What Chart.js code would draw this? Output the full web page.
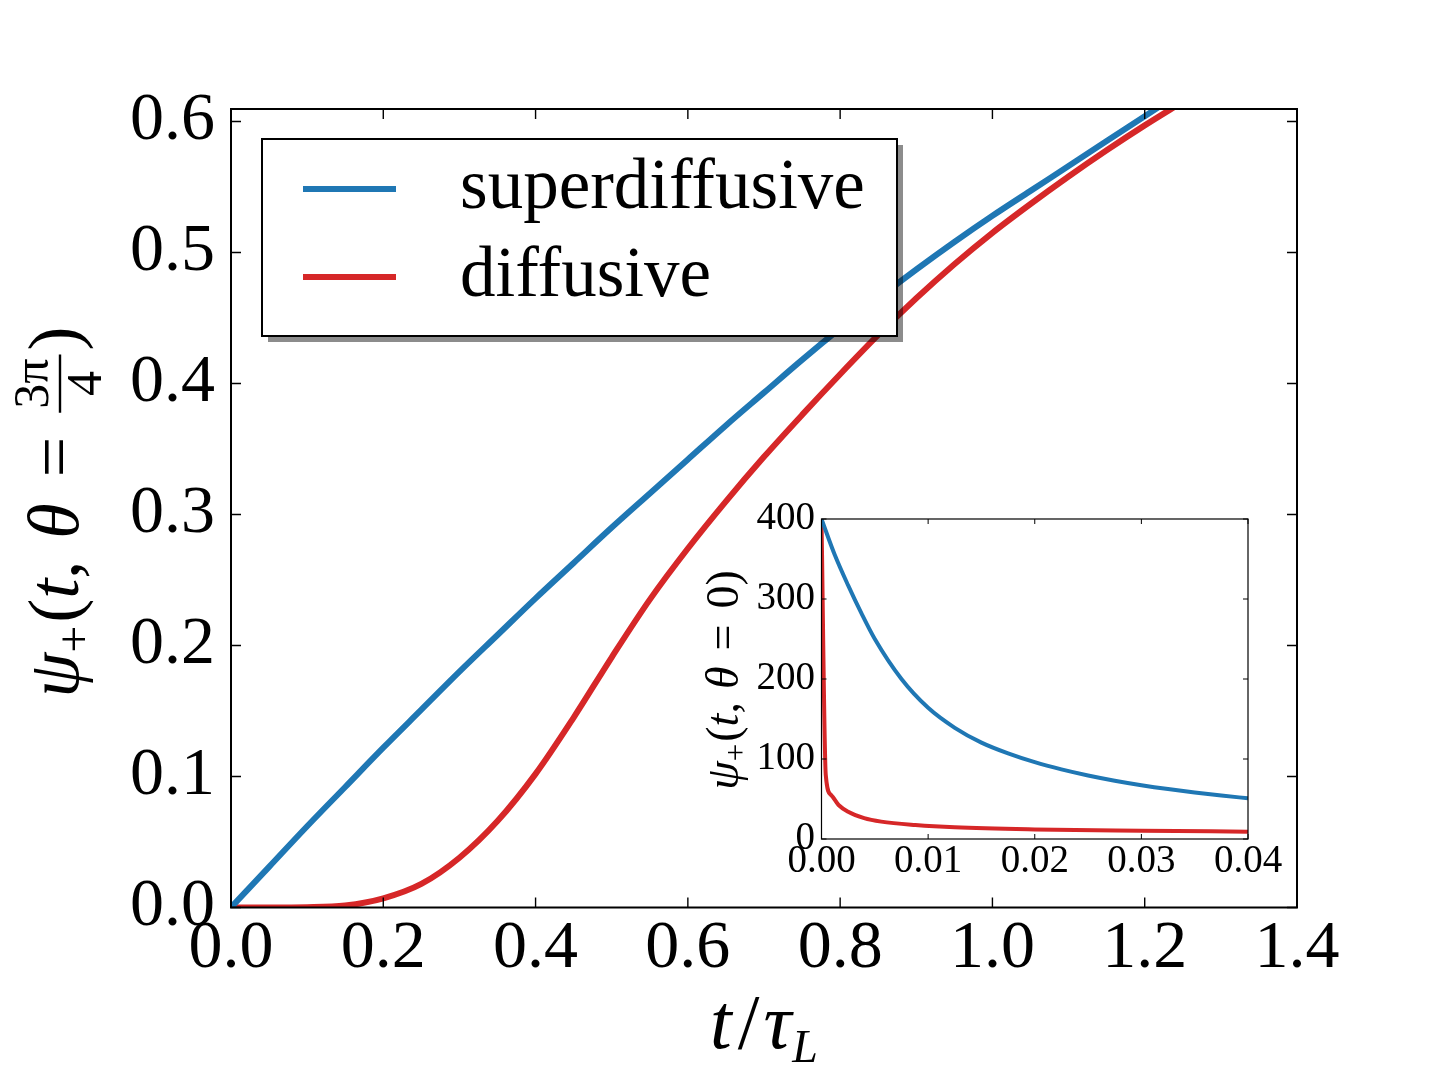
<!DOCTYPE html>
<html>
<head>
<meta charset="utf-8">
<script src="https://cdn.jsdelivr.net/npm/chart.js@4.4.0/dist/chart.umd.min.js"></script>
<style>
    html, body { margin: 0; padding: 0; background: #fff; }
    #wrap { position: relative; width: 1440px; height: 1080px; overflow: hidden; }
    #mainBox { position: absolute; left: 0; top: 0; width: 1440px; height: 1080px; }
    #insetBox { position: absolute; left: 690px; top: 490px; width: 610px; height: 410px; }
</style>
</head>
<body>
<div id="wrap">
    <div id="mainBox"><canvas id="mainChart"></canvas></div>
    <div id="insetBox"><canvas id="insetChart"></canvas></div>
</div>
<script>
// main panel: psi_+(t, theta = 3pi/4) against t / tau_L
const superT = [0, 0.05, 0.1, 0.15, 0.2, 0.25, 0.3, 0.35, 0.4, 0.45, 0.5, 0.55, 0.6, 0.65, 0.7, 0.75, 0.8, 0.85, 0.9, 0.95, 1.0, 1.05, 1.1, 1.15, 1.2, 1.25];
const superPsi = [0, 0.031, 0.062, 0.092, 0.122, 0.151, 0.180, 0.208, 0.236, 0.263, 0.290, 0.316, 0.342, 0.368, 0.393, 0.418, 0.442, 0.465, 0.487, 0.508, 0.528, 0.547, 0.566, 0.585, 0.604, 0.623];
const diffT = [0, 0.05, 0.1, 0.15, 0.2, 0.25, 0.3, 0.35, 0.4, 0.45, 0.5, 0.55, 0.6, 0.65, 0.7, 0.75, 0.8, 0.85, 0.9, 0.95, 1.0, 1.05, 1.1, 1.15, 1.2, 1.25];
const diffPsi = [0, 0, 0.0002, 0.0015, 0.007, 0.018, 0.038, 0.066, 0.102, 0.145, 0.191, 0.235, 0.274, 0.310, 0.344, 0.376, 0.407, 0.437, 0.465, 0.491, 0.515, 0.537, 0.558, 0.578, 0.597, 0.615];

// inset: psi_+(t, theta = 0) for short times
const insetSuperT = [0, 0.00125, 0.0025, 0.00375, 0.005, 0.0075, 0.01, 0.0125, 0.015, 0.0175, 0.02, 0.0225, 0.025, 0.0275, 0.03, 0.0325, 0.035, 0.0375, 0.04];
const insetSuperPsi = [400, 355, 317, 282, 250, 200, 164, 139, 120.5, 107, 96, 87, 79.4, 72.9, 67.3, 62.4, 58.1, 54.3, 50.9];
const insetDiffT = [0, 0.0004, 0.0009, 0.0016, 0.0025, 0.004, 0.0056, 0.0088, 0.0125, 0.02, 0.03, 0.04];
const insetDiffPsi = [400, 80, 55, 42.5, 34, 26, 21.7, 17.5, 14.6, 12, 10.4, 9.2];

const seriesNames = ['superdiffusive', 'diffusive'];
const seriesColors = ['#1f77b4', '#d62728'];

const mainXTicks = [0, 0.2, 0.4, 0.6, 0.8, 1.0, 1.2, 1.4];
const mainYTicks = [0, 0.1, 0.2, 0.3, 0.4, 0.5, 0.6];
const insetXTicks = [0, 0.01, 0.02, 0.03, 0.04];
const insetYTicks = [0, 100, 200, 300, 400];

const SERIF = '"Liberation Serif", "DejaVu Serif", serif';

function toPoints(xs, ys) {
    return xs.map(function (x, i) { return { x: x, y: ys[i] }; });
}

function useTicks(list) {
    return function (scale) {
        scale.ticks = list.map(function (v) { return { value: v }; });
    };
}

// frame on all four sides with inward ticks (matplotlib classic look)
const framePlugin = {
    id: 'frame',
    afterDatasetsDraw(chart, args, opts) {
        const ctx = chart.ctx;
        const a = chart.chartArea;
        const sx = chart.scales.x;
        const sy = chart.scales.y;
        ctx.save();
        ctx.strokeStyle = '#000';
        ctx.lineWidth = opts.tickWidth;
        ctx.beginPath();
        sx.ticks.forEach(function (t) {
            const px = sx.getPixelForValue(t.value);
            ctx.moveTo(px, a.bottom); ctx.lineTo(px, a.bottom - opts.tickLen);
            ctx.moveTo(px, a.top); ctx.lineTo(px, a.top + opts.tickLen);
        });
        sy.ticks.forEach(function (t) {
            const py = sy.getPixelForValue(t.value);
            ctx.moveTo(a.left, py); ctx.lineTo(a.left + opts.tickLen, py);
            ctx.moveTo(a.right, py); ctx.lineTo(a.right - opts.tickLen, py);
        });
        ctx.stroke();
        ctx.lineWidth = opts.lineWidth;
        ctx.strokeRect(a.left, a.top, a.width, a.height);
        ctx.restore();
    }
};

// draw a row of text pieces (rotated if needed); fractions get a bar
function drawPieces(ctx, pieces, cx, cy, angle) {
    ctx.save();
    ctx.translate(cx, cy);
    ctx.rotate(angle);
    ctx.fillStyle = '#000';
    ctx.textBaseline = 'alphabetic';
    ctx.textAlign = 'left';
    let total = 0;
    pieces.forEach(function (p) {
        ctx.font = p.font;
        if (p.num) {
            p.w = Math.max(ctx.measureText(p.num).width, ctx.measureText(p.den).width) + 8;
        } else {
            p.w = ctx.measureText(p.text).width;
        }
        total += p.w + (p.gap || 0);
    });
    let x = -total / 2;
    pieces.forEach(function (p) {
        ctx.font = p.font;
        if (p.num) {
            const wn = ctx.measureText(p.num).width;
            const wd = ctx.measureText(p.den).width;
            ctx.fillText(p.num, x + (p.w - wn) / 2, p.numY);
            ctx.fillText(p.den, x + (p.w - wd) / 2, p.denY);
            ctx.fillRect(x, p.barY - 1.2, p.w, 2.4);
        } else {
            ctx.fillText(p.text, x, p.dy || 0);
        }
        x += p.w + (p.gap || 0);
    });
    ctx.restore();
}

const mainTitles = {
    id: 'mainTitles',
    afterDraw(chart) {
        const ctx = chart.ctx;
        const it = 'italic 72px ' + SERIF;
        const rm = '72px ' + SERIF;
        drawPieces(ctx, [
            { text: 'ψ', font: it },
            { text: '+', font: '48px ' + SERIF, dy: 12, gap: 3 },
            { text: '(', font: rm },
            { text: 't', font: it },
            { text: ',', font: rm, gap: 22 },
            { text: 'θ', font: it, gap: 26 },
            { text: '=', font: rm, gap: 24 },
            { num: '3π', den: '4', font: '50px ' + SERIF, numY: -30, denY: 23, barY: -18, gap: 4 },
            { text: ')', font: rm }
        ], 78, 512, -Math.PI / 2);
        drawPieces(ctx, [
            { text: 't', font: 'italic 78px ' + SERIF, gap: 6 },
            { text: '/', font: '78px ' + SERIF, gap: 4 },
            { text: 'τ', font: 'italic 78px ' + SERIF, gap: 1 },
            { text: 'L', font: 'italic 46px ' + SERIF, dy: 14 }
        ], 764, 1048, 0);
    }
};

const insetTitles = {
    id: 'insetTitles',
    afterDraw(chart) {
        const ctx = chart.ctx;
        const it = 'italic 46px ' + SERIF;
        const rm = '46px ' + SERIF;
        drawPieces(ctx, [
            { text: 'ψ', font: it },
            { text: '+', font: '31px ' + SERIF, dy: 8, gap: 2 },
            { text: '(', font: rm },
            { text: 't', font: it },
            { text: ',', font: rm, gap: 13 },
            { text: 'θ', font: it, gap: 16 },
            { text: '=', font: rm, gap: 16 },
            { text: '0', font: rm },
            { text: ')', font: rm }
        ], 48, 190, -Math.PI / 2);
    }
};

// legend box drawn inside the plot with a drop shadow
const boxLegend = {
    id: 'boxLegend',
    afterDraw(chart) {
        const ctx = chart.ctx;
        const a = chart.chartArea;
        const bx = a.left + 31, by = a.top + 30, bw = 635, bh = 197;
        ctx.save();
        ctx.fillStyle = 'rgba(0,0,0,0.45)';
        ctx.fillRect(bx + 6, by + 6, bw, bh);
        ctx.fillStyle = '#fff';
        ctx.fillRect(bx, by, bw, bh);
        ctx.strokeStyle = '#000';
        ctx.lineWidth = 2;
        ctx.strokeRect(bx, by, bw, bh);
        ctx.font = '71px ' + SERIF;
        ctx.textBaseline = 'alphabetic';
        ctx.fillStyle = '#000';
        chart.data.datasets.forEach(function (ds, i) {
            const ly = by + 50 + i * 88;
            ctx.strokeStyle = ds.borderColor;
            ctx.lineWidth = 6;
            ctx.beginPath();
            ctx.moveTo(bx + 41, ly);
            ctx.lineTo(bx + 134, ly);
            ctx.stroke();
            ctx.fillText(ds.label, bx + 198, ly + 19);
        });
        ctx.restore();
    }
};

function lineSet(label, color, xs, ys, width) {
    return {
        label: label,
        data: toPoints(xs, ys),
        borderColor: color,
        backgroundColor: color,
        borderWidth: width,
        pointRadius: 0,
        fill: false,
        cubicInterpolationMode: 'monotone',
        clip: 0
    };
}

new Chart(document.getElementById('mainChart'), {
    type: 'line',
    data: {
        datasets: [
            lineSet(seriesNames[0], seriesColors[0], superT, superPsi, 6),
            lineSet(seriesNames[1], seriesColors[1], diffT, diffPsi, 6)
        ]
    },
    options: {
        responsive: true,
        maintainAspectRatio: false,
        animation: false,
        devicePixelRatio: 1,
        layout: { padding: { left: 0, top: 109, right: 143, bottom: 0 } },
        plugins: {
            legend: { display: false },
            tooltip: { enabled: false },
            frame: { tickLen: 10, tickWidth: 1.4, lineWidth: 2 }
        },
        scales: {
            x: {
                type: 'linear',
                min: 0,
                max: 1.4,
                grid: { display: false, drawTicks: false },
                border: { display: false },
                afterBuildTicks: useTicks(mainXTicks),
                afterFit: function (s) { s.height = 172.5; },
                ticks: {
                    color: '#000',
                    padding: 8,
                    maxRotation: 0,
                    font: { family: SERIF, size: 68, lineHeight: 1 },
                    callback: function (v) { return Number(v).toFixed(1); }
                }
            },
            y: {
                type: 'linear',
                min: 0,
                max: 0.6095,
                grid: { display: false, drawTicks: false },
                border: { display: false },
                afterBuildTicks: useTicks(mainYTicks),
                afterFit: function (s) { s.width = 231; },
                ticks: {
                    color: '#000',
                    padding: 16,
                    font: { family: SERIF, size: 68, lineHeight: 1 },
                    callback: function (v) { return Number(v).toFixed(1); }
                }
            }
        }
    },
    plugins: [framePlugin, boxLegend, mainTitles]
});

new Chart(document.getElementById('insetChart'), {
    type: 'line',
    data: {
        datasets: [
            lineSet(seriesNames[0], seriesColors[0], insetSuperT, insetSuperPsi, 4),
            lineSet(seriesNames[1], seriesColors[1], insetDiffT, insetDiffPsi, 4)
        ]
    },
    options: {
        responsive: true,
        maintainAspectRatio: false,
        animation: false,
        devicePixelRatio: 1,
        layout: { padding: { left: 0, top: 29, right: 52, bottom: 0 } },
        plugins: {
            legend: { display: false },
            tooltip: { enabled: false },
            frame: { tickLen: 5, tickWidth: 1, lineWidth: 1.2 }
        },
        scales: {
            x: {
                type: 'linear',
                min: 0,
                max: 0.04,
                grid: { display: false, drawTicks: false },
                border: { display: false },
                afterBuildTicks: useTicks(insetXTicks),
                afterFit: function (s) { s.height = 61; },
                ticks: {
                    color: '#000',
                    padding: 3,
                    maxRotation: 0,
                    font: { family: SERIF, size: 39, lineHeight: 1 },
                    callback: function (v) { return Number(v).toFixed(2); }
                }
            },
            y: {
                type: 'linear',
                min: 0,
                max: 400,
                grid: { display: false, drawTicks: false },
                border: { display: false },
                afterBuildTicks: useTicks(insetYTicks),
                afterFit: function (s) { s.width = 131.5; },
                ticks: {
                    color: '#000',
                    padding: 6.5,
                    font: { family: SERIF, size: 39, lineHeight: 1 },
                    callback: function (v) { return String(Math.round(v)); }
                }
            }
        }
    },
    plugins: [framePlugin, insetTitles]
});
</script>
</body>
</html>
